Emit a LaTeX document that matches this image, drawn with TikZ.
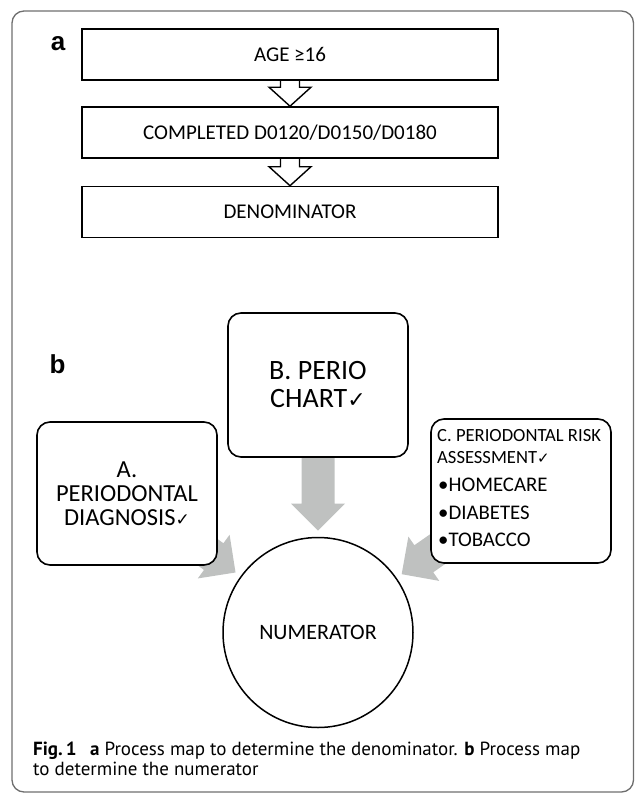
\documentclass[tikz,border=0pt]{standalone}
\usepackage{fontspec}
\setmainfont{Carlito}
\newfontfamily\capfont{PT Sans}
\newfontfamily\labfont{Liberation Sans}
\newfontfamily\symfont{DejaVu Sans}
\usetikzlibrary{calc}
\pgfdeclarelayer{bg}
\pgfsetlayers{bg,main}
\definecolor{arrowgray}{RGB}{191,193,192}
\definecolor{framegray}{RGB}{110,110,110}
\newcommand{\chk}[1]{{\symfont\fontsize{#1}{#1}\selectfont ✓}}
\begin{document}
\begin{tikzpicture}[x=1pt,y=1pt,
  outerframe/.style={draw=framegray, line width=1.3pt, rounded corners=12pt},
  abox/.style={draw, line width=1.6pt, minimum width=416pt, minimum height=51pt, inner sep=0pt, font=\fontsize{21}{25}\selectfont},
  hollow/.style={draw, line width=1.4pt, line join=miter},
  bbox/.style={draw, fill=white, line width=1.6pt, rounded corners=13pt, minimum width=180pt, minimum height=144pt, inner sep=0pt, align=center},
  numc/.style={draw, fill=white, line width=1.5pt, circle, minimum size=190pt, inner sep=0pt, font=\fontsize{22}{26}\selectfont},
  panel/.style={font=\labfont\bfseries\fontsize{26}{30}\selectfont, anchor=base, inner sep=0pt},
  cline/.style={anchor=base west, inner sep=0pt, font=\fontsize{18.6}{22}\selectfont},
  bline/.style={anchor=base west, inner sep=0pt, font=\fontsize{20.8}{24}\selectfont},
  captxt/.style={anchor=base west, inner sep=0pt, font=\capfont\fontsize{19}{22}\selectfont}
]
\useasboundingbox (0,0) rectangle (636,-795);
\draw[outerframe] (12,-11) rectangle (633.5,-792);

% panel a
\node[panel] (la) at (58,-50) {a};
\node[abox] (age) at (290,-54.5) {AGE ≥16};
\node[abox] (comp) at (290,-132.5) {COMPLETED D0120/D0150/D0180};
\node[abox] (den) at (290,-212) {DENOMINATOR};
\draw[hollow] let \p1=(age.south), \p2=(comp.north) in
  (\x1-9.5pt,\y1) -- (\x1-9.5pt,\y2+19pt) -- (\x1-21pt,\y2+19pt) -- (\p2) -- (\x1+21pt,\y2+19pt) -- (\x1+9.5pt,\y2+19pt) -- (\x1+9.5pt,\y1);
\draw[hollow] let \p1=(comp.south), \p2=(den.north) in
  (\x1-9.5pt,\y1) -- (\x1-9.5pt,\y2+19pt) -- (\x1-21pt,\y2+19pt) -- (\p2) -- (\x1+21pt,\y2+19pt) -- (\x1+9.5pt,\y2+19pt) -- (\x1+9.5pt,\y1);

% panel b
\node[panel] (lb) at (57.5,-373) {b};
\node[bbox, font=\fontsize{28}{28}\selectfont] (B) at (318,-385) {B. PERIO\\CHART\chk{22}};
\node[bbox, minimum height=143pt, font=\fontsize{24.5}{24}\selectfont] (A) at (127,-493.5) {A.\\PERIODONTAL\\DIAGNOSIS\chk{17}};
\node[bbox] (C) at (521,-491) {};
\node[cline] (c1) at (437,-441) {C. PERIODONTAL RISK};
\node[cline] (c2) at (437,-463) {ASSESSMENT\chk{15}};
\node[bline] (c3) at (438,-491.5) {•HOMECARE};
\node[bline] (c4) at (438,-519.5) {•DIABETES};
\node[bline] (c5) at (438,-546.5) {•TOBACCO};
\node[numc] (num) at (318,-632.5) {NUMERATOR};

\begin{pgfonlayer}{bg}
\foreach \s in {A,B,C}{
  \fill[arrowgray] let \p1=(\s.center), \p2=($(num.center)!102pt!(\s.center)$),
    \n1={atan2(\y2-\y1,\x2-\x1)}, \n2={veclen(\x2-\x1,\y2-\y1)} in
    ($(\p1)+({\n1-90}:16.5)$) -- ($(\p1)+({\n1}:{\n2-27})+({\n1-90}:16.5)$)
    -- ($(\p1)+({\n1}:{\n2-27})+({\n1-90}:27)$) -- (\p2)
    -- ($(\p1)+({\n1}:{\n2-27})+({\n1+90}:27)$) -- ($(\p1)+({\n1}:{\n2-27})+({\n1+90}:16.5)$)
    -- ($(\p1)+({\n1+90}:16.5)$) -- cycle;
}
\end{pgfonlayer}

% caption
\node[captxt] (cap1) at (33,-755) {\textbf{Fig.\,1}\hspace{0.7em}\textbf{a} Process map to determine the denominator. \textbf{b} Process map};
\node[captxt] (cap2) at (33,-775) {to determine the numerator};
\end{tikzpicture}
\end{document}
